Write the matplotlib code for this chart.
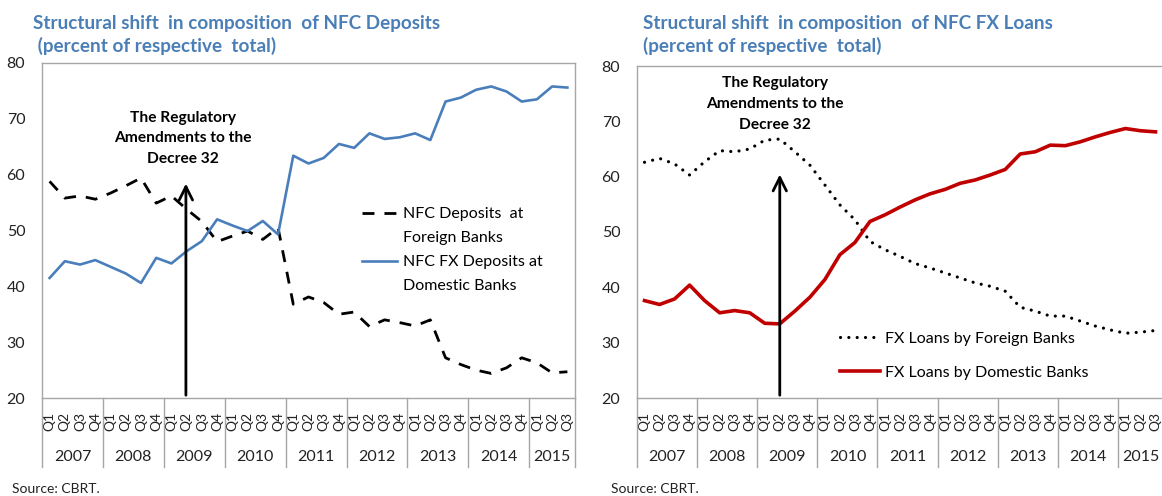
import matplotlib
matplotlib.use("Agg")
import matplotlib.pyplot as plt
from matplotlib.lines import Line2D
from matplotlib.transforms import blended_transform_factory

plt.rcParams['font.family'] = ['Lato', 'DejaVu Sans']

# ---------------- data ----------------
years = [2007, 2008, 2009, 2010, 2011, 2012, 2013, 2014, 2015]
quarters_per_year = [4, 4, 4, 4, 4, 4, 4, 4, 3]
quarter_labels = [f"Q{q + 1}" for n in quarters_per_year for q in range(n)]

nfc_dep_foreign = [58.8, 55.8, 56.2, 55.6, 56.7, 58.0, 59.4, 54.9, 56.2, 53.8,
                   51.6, 48.0, 49.0, 49.9, 48.4, 50.5, 36.8, 38.1, 37.1, 35.0,
                   35.4, 32.8, 34.0, 33.5, 32.9, 34.0, 27.2, 26.0, 25.0, 24.4,
                   25.4, 27.2, 26.3, 24.5, 24.7]
nfc_fx_dep_domestic = [41.5, 44.5, 43.9, 44.7, 43.5, 42.3, 40.6, 45.1, 44.1, 46.3,
                       48.1, 52.0, 50.9, 49.9, 51.7, 49.3, 63.4, 62.0, 63.0, 65.5,
                       64.8, 67.4, 66.4, 66.7, 67.4, 66.2, 73.1, 73.8, 75.2, 75.8,
                       74.9, 73.1, 73.5, 75.8, 75.6]

fx_loans_foreign = [62.6, 63.3, 62.3, 60.3, 62.7, 64.7, 64.5, 65.0, 66.6, 66.8,
                    64.5, 62.1, 58.5, 54.9, 52.2, 48.3, 46.8, 45.6, 44.3, 43.5,
                    42.6, 41.7, 40.8, 40.2, 39.3, 36.4, 35.7, 34.8, 34.8, 33.9,
                    33.0, 32.3, 31.7, 31.9, 32.2]
fx_loans_domestic = [37.6, 36.9, 37.9, 40.4, 37.6, 35.4, 35.8, 35.4, 33.5, 33.4,
                     35.7, 38.2, 41.4, 45.9, 48.1, 51.9, 53.1, 54.5, 55.8, 56.9,
                     57.7, 58.8, 59.4, 60.3, 61.3, 64.1, 64.5, 65.7, 65.6, 66.3,
                     67.2, 68.0, 68.7, 68.3, 68.1]

decree_index = 9          # Q2 2009
decree_text = "The Regulatory\nAmendments to the\nDecree 32"
left_arrow_head = 58.9
right_arrow_head = 60.9

left_title = ["Structural shift  in composition  of NFC Deposits",
              " (percent of respective  total)"]
right_title = ["Structural shift  in composition  of NFC FX Loans",
               "(percent of respective  total)"]

# ---------------- styles ----------------
BLUE = '#4a7ebb'
RED = '#c00000'
TITLE_BLUE = '#4a7eb6'
GRID_GRAY = '#a6a6a6'
W, H = 1162, 496

fig = plt.figure(figsize=(W / 100, H / 100), dpi=100)


def px_axes(l, t, r, b):
    return fig.add_axes([l / W, 1 - b / H, (r - l) / W, (b - t) / H])


def style_axes(ax, bottom_px, top_px):
    n = len(quarter_labels)
    ax.set_xlim(-0.5, n - 0.5)
    ax.set_ylim(20, 80)
    ax.set_yticks(range(20, 81, 10))
    ax.tick_params(axis='y', length=0, pad=12, labelsize=11.5, labelcolor='#222222')
    ax.set_xticks(range(n))
    ax.set_xticklabels(quarter_labels, rotation=90, fontsize=10, color='#222222')
    ax.tick_params(axis='x', length=0, pad=10)
    for s in ax.spines.values():
        s.set_color(GRID_GRAY)
        s.set_linewidth(1.0)
    trans = blended_transform_factory(ax.transData, ax.transAxes)
    height_px = bottom_px - top_px
    sep = -69 / height_px
    bounds = [-0.5]
    start = 0
    for y, nq in zip(years, quarters_per_year):
        centre = start + (nq - 1) / 2
        ax.text(centre, -59 / height_px, str(y), transform=trans, ha='center',
                va='center', fontsize=11.5, color='#222222')
        start += nq
        bounds.append(start - 0.5)
    for b in bounds:
        ax.plot([b, b], [0, sep], transform=trans, color=GRID_GRAY, lw=1.0,
                clip_on=False)


# ---------------- left panel ----------------
axL = px_axes(42, 63, 575, 398)
x = list(range(len(quarter_labels)))
lnL1, = axL.plot(x, nfc_dep_foreign, color='black', lw=2.0,
                 linestyle=(0, (4.3, 3.6)))
lnL2, = axL.plot(x, nfc_fx_dep_domestic, color=BLUE, lw=1.9)
style_axes(axL, 398, 63)
axL.annotate('', xy=(decree_index - 0.05, left_arrow_head),
             xytext=(decree_index - 0.05, 20),
             arrowprops=dict(arrowstyle='->', lw=2, color='black',
                             mutation_scale=24))
axL.text(decree_index - 0.25, 66.5, decree_text, ha='center', va='center',
         fontsize=11.2, fontweight='bold', linespacing=1.62)
blank = Line2D([], [], color='none')
axL.legend([lnL1, blank, lnL2, blank],
           ["NFC Deposits  at", "Foreign Banks", "NFC FX Deposits at", "Domestic Banks"],
           loc='upper left', bbox_to_anchor=(0.6, 0.57), frameon=False,
           fontsize=11.5, handlelength=2.2, handletextpad=0.35,
           labelspacing=0.62, borderpad=0, borderaxespad=0)

# ---------------- right panel ----------------
axR = px_axes(637, 66, 1163, 398)
lnR1, = axR.plot(x, fx_loans_foreign, color='black', lw=2.3,
                 linestyle=(0, (0.01, 2.6)), dash_capstyle='round')
lnR2, = axR.plot(x, fx_loans_domestic, color=RED, lw=2.6)
style_axes(axR, 398, 66)
axR.annotate('', xy=(decree_index, right_arrow_head), xytext=(decree_index, 20),
             arrowprops=dict(arrowstyle='->', lw=2, color='black',
                             mutation_scale=24))
axR.text(decree_index - 0.35, 73.1, decree_text, ha='center', va='center',
         fontsize=11.2, fontweight='bold', linespacing=1.62)
axR.legend([lnR1, lnR2],
           ["FX Loans by Foreign Banks", "FX Loans by Domestic Banks"],
           loc='upper left', bbox_to_anchor=(0.386, 0.2), frameon=False,
           fontsize=11.5, handlelength=2.5, handletextpad=0.3,
           labelspacing=1.25, borderpad=0, borderaxespad=0)

# ---------------- titles & source ----------------
for lx, lines in ((33, left_title), (643, right_title)):
    fig.text(lx / W, 1 - 29 / H, lines[0], fontsize=13.6,
             fontweight='bold', color=TITLE_BLUE, va='baseline')
    fig.text(lx / W, 1 - 52 / H, lines[1], fontsize=13.6,
             fontweight='bold', color=TITLE_BLUE, va='baseline')
fig.text(12 / W, 1 - 489 / H, "Source: CBRT.", fontsize=10, va='center',
         color='#222222')
fig.text(611 / W, 1 - 489 / H, "Source: CBRT.", fontsize=10, va='center',
         color='#222222')

fig.savefig('out.png', dpi=100)
